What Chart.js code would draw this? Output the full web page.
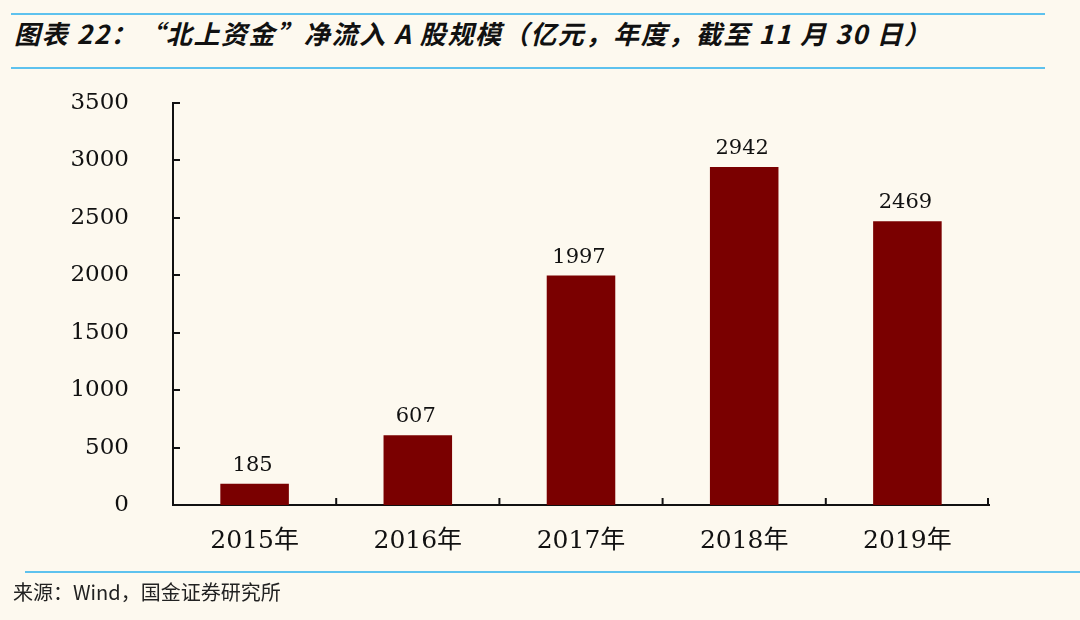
<!DOCTYPE html>
<html>
<head>
<meta charset="utf-8">
<script src="https://cdn.jsdelivr.net/npm/chart.js@4.4.1/dist/chart.umd.min.js"></script>
<style>
  body { margin: 0; width: 1080px; height: 620px; background: #fdf9ef; position: relative; overflow: hidden; }
  .line { position: absolute; height: 2px; background: #5ec2ee; }
  #title { position: absolute; left: 14px; top: 14px; font-family: "Noto Sans CJK SC", sans-serif; font-size: 26px; font-weight: bold; font-style: italic; color: #111; white-space: nowrap; letter-spacing: 1.6px; }
  #source { position: absolute; left: 13px; top: 577px; font-family: "Noto Sans CJK SC", sans-serif; font-size: 20px; color: #222; white-space: nowrap; }
  #wrap { position: absolute; left: 0; top: 45px; width: 1080px; height: 535px; }
</style>
</head>
<body>
<div class="line" style="left:11px; top:13px; width:1034px;"></div>
<div id="title">图表 22：“北上资金”净流入 A 股规模（亿元，年度，截至 11 月 30 日）</div>
<div class="line" style="left:11px; top:67px; width:1034px;"></div>
<div id="wrap"><canvas id="chart"></canvas></div>
<div class="line" style="left:25px; top:571px; width:1055px;"></div>
<div id="source">来源：Wind，国金证券研究所</div>
<script>
let years = ['2015年', '2016年', '2017年', '2018年', '2019年'];
let inflow = [185, 607, 1997, 2942, 2469];
let yTicks = [0, 500, 1000, 1500, 2000, 2500, 3000, 3500];

const serif = '"DejaVu Serif", "Liberation Serif", "Noto Sans CJK SC", serif';

// inward tick marks + value labels above the bars
const extras = {
    id: 'extras',
    afterDraw(chart) {
        const ctx = chart.ctx;
        const x = chart.scales.x;
        const y = chart.scales.y;
        ctx.save();
        ctx.strokeStyle = '#111';
        ctx.lineWidth = 2;
        // y ticks pointing right
        yTicks.forEach(v => {
            const py = Math.round(y.getPixelForValue(v));
            ctx.beginPath();
            ctx.moveTo(x.left, py);
            ctx.lineTo(x.left + 7, py);
            ctx.stroke();
        });
        // x ticks between categories pointing up, plus the right end
        for (let i = 1; i < years.length; i++) {
            const px = (x.getPixelForValue(i - 1) + x.getPixelForValue(i)) / 2;
            ctx.beginPath();
            ctx.moveTo(px, y.bottom);
            ctx.lineTo(px, y.bottom - 7);
            ctx.stroke();
        }
        ctx.beginPath();
        ctx.moveTo(x.right - 1, y.bottom);
        ctx.lineTo(x.right - 1, y.bottom - 7);
        ctx.stroke();
        // value labels
        ctx.fillStyle = '#111';
        ctx.font = '21px ' + serif;
        ctx.textAlign = 'center';
        ctx.textBaseline = 'alphabetic';
        chart.getDatasetMeta(0).data.forEach((bar, i) => {
            ctx.fillText(String(inflow[i]), bar.x - 2, bar.y - 13);
        });
        ctx.restore();
    }
};

new Chart(document.getElementById('chart'), {
    type: 'bar',
    data: {
        labels: years,
        datasets: [{
            data: inflow,
            backgroundColor: '#7a0000',
            borderWidth: 0,
            categoryPercentage: 1,
            barPercentage: 0.42
        }]
    },
    options: {
        responsive: true,
        maintainAspectRatio: false,
        animation: false,
        layout: { padding: { top: 19, right: 91, left: 0, bottom: 0 } },
        plugins: { legend: { display: false }, tooltip: { enabled: false } },
        scales: {
            x: {
                grid: { display: false, drawTicks: false },
                border: { display: true, color: '#111', width: 2 },
                ticks: { color: '#111', font: { size: 25, family: serif }, padding: 21 },
                afterFit(scale) { scale.height = 75; }
            },
            y: {
                min: 0,
                max: 3500,
                grid: { display: false, drawTicks: false },
                border: { display: true, color: '#111', width: 2 },
                afterBuildTicks(scale) { scale.ticks = yTicks.map(v => ({ value: v })); },
                ticks: { color: '#111', font: { size: 23, family: serif }, padding: 44, callback: v => String(v) },
                afterFit(scale) { scale.width = 173; }
            }
        }
    },
    plugins: [extras]
});
</script>
</body>
</html>
